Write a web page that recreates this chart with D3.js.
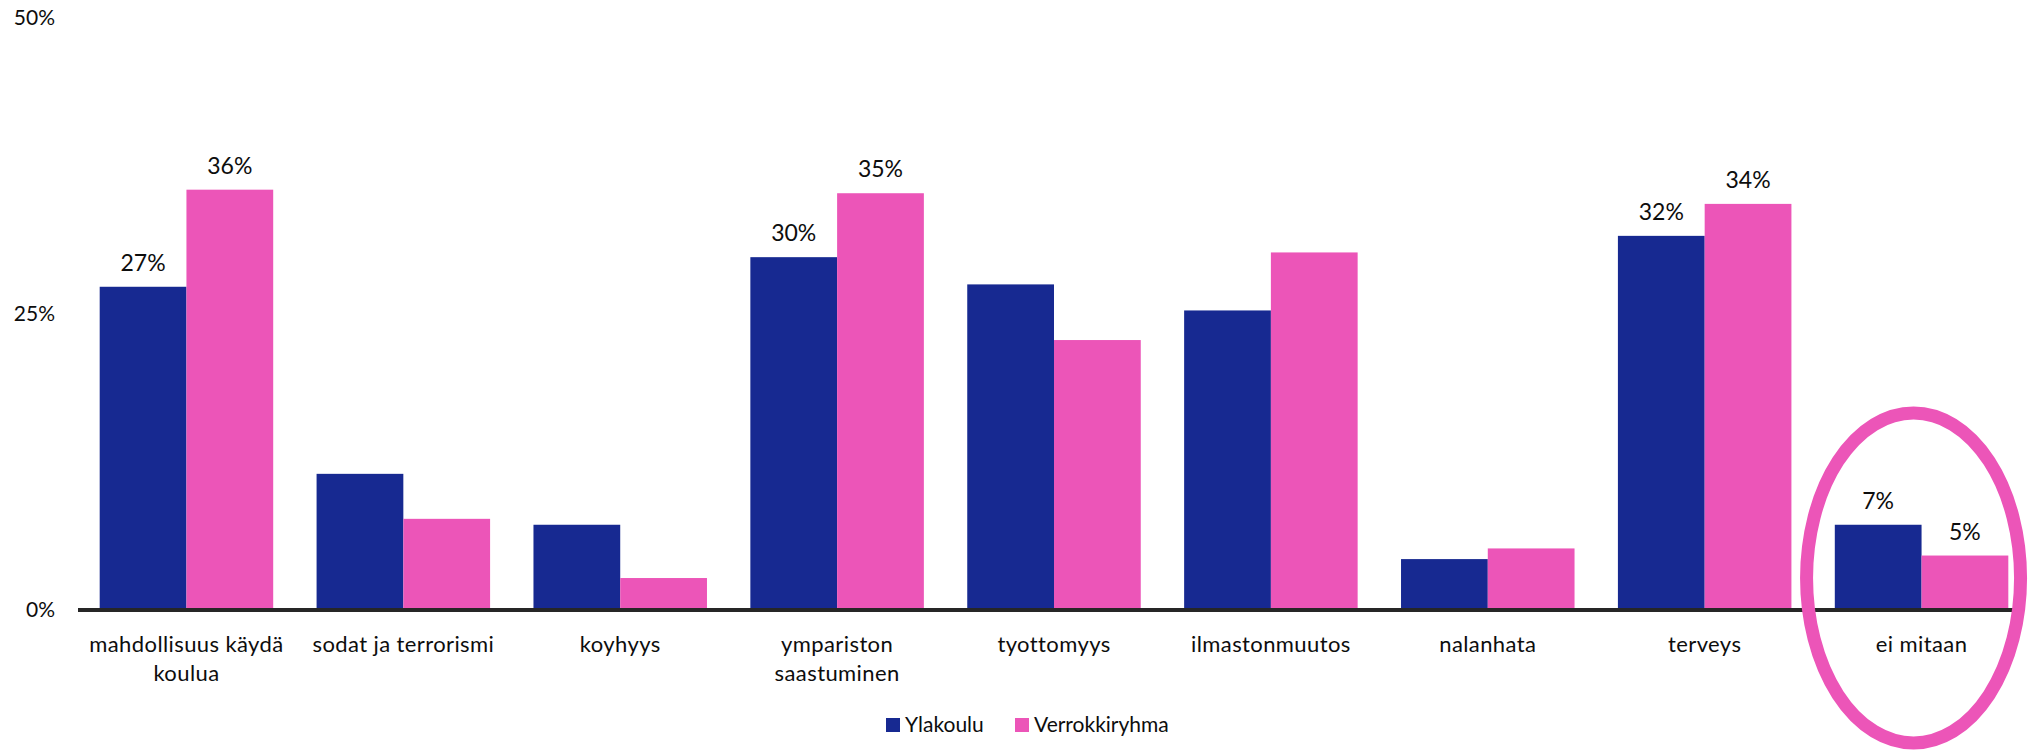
<!DOCTYPE html>
<html>
<head>
<meta charset="utf-8">
<script src="https://cdn.jsdelivr.net/npm/d3@7"></script>
<style>
  html, body { margin: 0; padding: 0; background: #fff; }
  svg { display: block; }
  text { font-family: Lato, "Open Sans", sans-serif; fill: #0d0d0d; }
</style>
</head>
<body>
<svg id="chart" width="2035" height="750"></svg>
<script>
const categories = [
  "mahdollisuus käydä\nkoulua",
  "sodat ja terrorismi",
  "koyhyys",
  "ympariston\nsaastuminen",
  "tyottomyys",
  "ilmastonmuutos",
  "nalanhata",
  "terveys",
  "ei mitaan"
];
const seriesNames = ["Ylakoulu", "Verrokkiryhma"];
const ylakoulu =      [27.3, 11.5, 7.2, 29.8, 27.5, 25.3, 4.3, 31.6, 7.2];
const verrokkiryhma = [35.5, 7.7, 2.7, 35.2, 22.8, 30.2, 5.2, 34.3, 4.6];
// which bars carry a data label
const labelYlakoulu =      [true, false, false, true, false, false, false, true, true];
const labelVerrokkiryhma = [true, false, false, true, false, false, false, true, true];
const yTicks = [0, 25, 50];
const highlighted = "ei mitaan";

const colors = ["#172991", "#EC55B8"];

const svg = d3.select("#chart");
const left = 78, right = 2022, y0 = 610, yTop = 18;

const x = d3.scaleBand().domain(categories).range([78, 2030])
  .paddingInner(0.2).paddingOuter(0.1);
const xs = d3.scaleBand().domain(seriesNames).range([0, x.bandwidth()]);
const y = d3.scaleLinear().domain([0, 50]).range([y0, yTop]);

const rows = categories.map((c, i) => ({
  cat: c,
  vals: [
    { s: seriesNames[0], v: ylakoulu[i], lab: labelYlakoulu[i] },
    { s: seriesNames[1], v: verrokkiryhma[i], lab: labelVerrokkiryhma[i] }
  ]
}));

// y axis
const yAxis = d3.axisLeft(y).tickValues(yTicks).tickSize(0).tickPadding(0)
  .tickFormat(d => d + "%");
const gy = svg.append("g").attr("transform", `translate(${left - 23},0)`).call(yAxis);
gy.select(".domain").remove();
gy.selectAll("text").style("font-size", "21px").style("font-family", "Lato, sans-serif").attr("fill", "#0d0d0d");

// bars
const g = svg.append("g");
const groups = g.selectAll("g.grp").data(rows).join("g")
  .attr("class", "grp").attr("transform", d => `translate(${x(d.cat)},0)`);
groups.selectAll("rect").data(d => d.vals).join("rect")
  .attr("x", d => xs(d.s))
  .attr("width", xs.bandwidth())
  .attr("y", d => y(d.v))
  .attr("height", d => y(0) - y(d.v))
  .attr("fill", (d, i) => colors[i]);
groups.selectAll("text.val").data(d => d.vals.filter(v => v.lab)).join("text")
  .attr("class", "val")
  .attr("x", d => xs(d.s) + xs.bandwidth() / 2)
  .attr("y", d => y(d.v) - 16)
  .attr("text-anchor", "middle")
  .style("font-size", "23px")
  .text(d => Math.round(d.v) + "%");

// x axis
const xAxis = d3.axisBottom(x).tickSize(0).tickPadding(0);
const gx = svg.append("g").attr("transform", `translate(0,${y0})`).call(xAxis);
gx.select(".domain").attr("stroke", "#262626").attr("stroke-width", 4)
  .attr("d", `M${left},0H${right}`);
gx.selectAll(".tick text").each(function(d) {
  const t = d3.select(this);
  const lines = d.split("\n");
  t.text(null).attr("y", 0).attr("dy", null)
    .style("font-size", "22px").style("letter-spacing", "0.4px")
    .style("font-family", "Lato, sans-serif").attr("fill", "#0d0d0d");
  lines.forEach((ln, i) => {
    t.append("tspan").attr("x", 0).attr("y", 42 + i * 29).text(ln);
  });
});

// legend
const legend = svg.append("g").attr("transform", "translate(0,725)");
const legX = [886, 1015];
seriesNames.forEach((s, i) => {
  legend.append("rect").attr("x", legX[i]).attr("y", -7).attr("width", 14).attr("height", 14).attr("fill", colors[i]);
  legend.append("text").attr("x", legX[i] + 19).attr("y", 7).style("font-size", "21px").text(s);
});

// highlight ellipse
const cx = x(highlighted) + x.bandwidth() / 2;
svg.append("ellipse")
  .attr("cx", cx - 8).attr("cy", 578)
  .attr("rx", 107).attr("ry", 165)
  .attr("fill", "none").attr("stroke", colors[1]).attr("stroke-width", 13);
</script>
</body>
</html>
